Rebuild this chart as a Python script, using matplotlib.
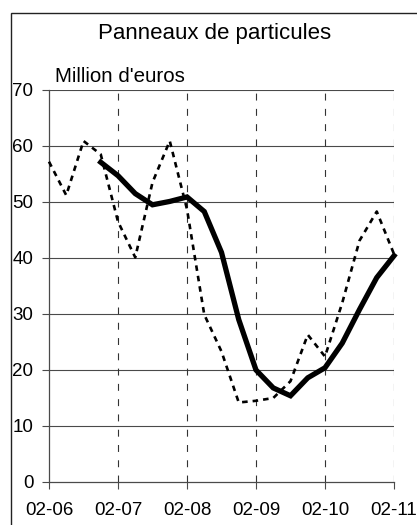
import numpy as np
import matplotlib
matplotlib.use("Agg")
import matplotlib.pyplot as plt
from matplotlib.patches import Rectangle

plt.rcParams['font.family'] = ['Liberation Sans', 'DejaVu Sans']
plt.rcParams['lines.scale_dashes'] = False

# quarterly values, million euros (index 0 = 02-06)
quarters = np.arange(21)
monthly_like = [57.2, 51.2, 60.9, 58.5, 46.5, 40.1, 53.5, 60.9, 48.7, 29.9, 23.3,
                14.2, 14.5, 15.0, 18.0, 26.3, 22.4, 32.0, 43.1, 48.3, 40.7]
smoothed = [57.1, 54.7, 51.5, 49.5, 50.1, 50.9, 48.3, 41.0, 29.0, 20.0, 16.8,
            15.4, 18.6, 20.4, 24.8, 30.8, 36.5, 40.4]
smoothed_start = 3
tick_pos = [0, 4, 8, 12, 16, 20]
tick_labels = ['02-06', '02-07', '02-08', '02-09', '02-10', '02-11']

W, H = 417, 525
fig = plt.figure(figsize=(W / 100, H / 100), dpi=100)
ax = fig.add_axes([49 / W, 1 - 482 / H, 345 / W, 392 / H])

# outer frame
fig.patches.append(Rectangle((11 / W, -0.1), 1.2, 1.1 - 13 / H, transform=fig.transFigure,
                             fill=False, edgecolor='#222222', linewidth=1.0))

ax.set_xlim(0, 20)
ax.set_ylim(0, 70)

# grid
for y in range(10, 71, 10):
    ax.axhline(y, color='#4a4a4a', linewidth=0.8, zorder=1)
for x in tick_pos[1:]:
    ax.axvline(x, color='#333333', linewidth=0.8, dashes=(5, 6), zorder=1)

ax.plot(quarters, monthly_like, color='black', linewidth=1.9, dashes=(4.0, 3.6),
        clip_on=False, zorder=3)
ax.plot(quarters[smoothed_start:smoothed_start + len(smoothed)], smoothed,
        color='black', linewidth=3.8, solid_joinstyle='miter', clip_on=False, zorder=4)

for s in ['top', 'right']:
    ax.spines[s].set_visible(False)
for s in ['left', 'bottom']:
    ax.spines[s].set_color('#4a4a4a')
    ax.spines[s].set_linewidth(0.9)

ax.set_xticks(tick_pos)
ax.set_xticklabels(tick_labels)
ax.set_yticks(range(0, 71, 10))
ax.tick_params(axis='both', length=4.7, width=0.8, color='#4a4a4a', labelsize=13.5)
ax.tick_params(axis='x', pad=9.5)
ax.tick_params(axis='y', pad=6.5)

fig.text(215 / W, 1 - 33 / H, 'Panneaux de particules', ha='center', va='center', fontsize=16)
fig.text(55 / W, 1 - 76 / H, "Million d'euros", ha='left', va='center', fontsize=14.8)

fig.savefig('out.png', dpi=100)
